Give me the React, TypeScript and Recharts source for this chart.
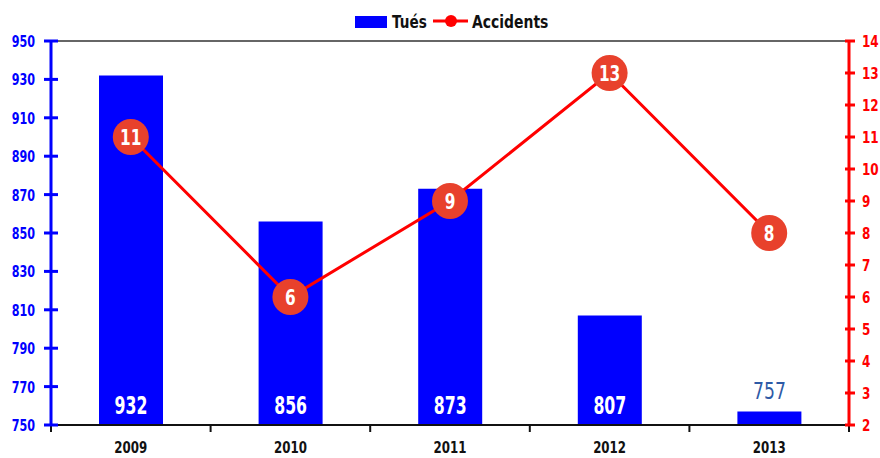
import React from 'react';
import {
  ComposedChart, Bar, Line, XAxis, YAxis, CartesianGrid, LabelList,
} from 'recharts';

const YEARS = ['2009', '2010', '2011', '2012', '2013'];
const TUES = [932, 856, 873, 807, 757];
const ACCIDENTS = [11, 6, 9, 13, 8];
const LEFT_TICKS = [750, 770, 790, 810, 830, 850, 870, 890, 910, 930, 950];
const RIGHT_TICKS = [2, 3, 4, 5, 6, 7, 8, 9, 10, 11, 12, 13, 14];

const data = YEARS.map((year, i) => ({ year, tues: TUES[i], accidents: ACCIDENTS[i] }));

const FONT = "'DejaVu Sans', sans-serif";
const BLUE = '#0000ff';
const RED = '#ff0000';
const DOT = '#e8412c';

const W = 880;
const H = 458;
const BAND = (849 - 51) / YEARS.length;

// text squeezed horizontally to get a condensed face
function CondText({ x, y, sx, size, fill, anchor = 'middle', bold = true, children }: any) {
  return (
    <g transform={`translate(${x},${y}) scale(${sx},1)`}>
      <text x={0} y={0} textAnchor={anchor} fill={fill} fontSize={size}
        fontWeight={bold ? 'bold' : 'normal'} fontFamily={FONT}>
        {children}
      </text>
    </g>
  );
}

function LeftTick({ x, y, payload }: any) {
  return (
    <g>
      <line x1={x + 1} x2={x + 15} y1={y} y2={y} stroke={BLUE} strokeWidth={3} />
      <CondText x={x - 8} y={y + 6} sx={0.7} size={16} fill={BLUE} anchor="end">{payload.value}</CondText>
    </g>
  );
}

function RightTick({ x, y, payload }: any) {
  return (
    <g>
      <line x1={x - 12} x2={x - 2} y1={y} y2={y} stroke={RED} strokeWidth={3} />
      <CondText x={x + 5} y={y + 6} sx={0.75} size={16} fill={RED} anchor="start">{payload.value}</CondText>
    </g>
  );
}

function YearTick({ x, y, payload, index }: any) {
  const left = x - BAND / 2;
  return (
    <g>
      <line x1={left} x2={left} y1={y - 9} y2={y - 1} stroke="#111" strokeWidth={2} />
      {index === YEARS.length - 1 && (
        <line x1={x + BAND / 2} x2={x + BAND / 2} y1={y - 9} y2={y - 1} stroke="#111" strokeWidth={2} />
      )}
      <CondText x={x} y={y + 20} sx={0.79} size={15} fill="#111">{payload.value}</CondText>
    </g>
  );
}

// value inside the bar near its base, or above it when the bar is too short
function BarValue({ x, y, width, height, value }: any) {
  const cx = x + width / 2;
  if (height < 30) {
    return (
      <g>
        <rect x={cx - 22} y={y - 26} width={44} height={22} fill="#fff" />
        <CondText x={cx} y={y - 13} sx={0.75} size={23} fill="#2e5aa6" bold={false}>{value}</CondText>
      </g>
    );
  }
  return (
    <CondText x={cx} y={y + height - 11} sx={0.63} size={25} fill="#fff">{value}</CondText>
  );
}

function AccidentDot({ cx, cy, value }: any) {
  return (
    <g>
      <circle cx={cx} cy={cy} r={18} fill={DOT} />
      <CondText x={cx} y={cy + 8} sx={0.7} size={22} fill="#fff">{value}</CondText>
    </g>
  );
}

function LegendBox() {
  return (
    <svg width={W} height={36} style={{ position: 'absolute', left: 0, top: 0 }}>
      <rect x={355} y={16} width={32} height={12} fill={BLUE} />
      <CondText x={392} y={28} sx={0.8} size={17} fill="#111" anchor="start">Tués</CondText>
      <line x1={433} x2={468} y1={21} y2={21} stroke={RED} strokeWidth={3} />
      <circle cx={451} cy={21} r={6} fill={RED} />
      <CondText x={472} y={28} sx={0.82} size={17} fill="#111" anchor="start">Accidents</CondText>
    </svg>
  );
}

export default function App() {
  return (
    <div style={{ position: 'absolute', left: 0, top: 0, width: W, height: H, background: '#fff' }}>
      <LegendBox />
      <ComposedChart width={W} height={H} data={data} margin={{ top: 41, right: 0, bottom: 0, left: 6 }}>
        <CartesianGrid vertical={false} stroke="#333" strokeWidth={1.5} />
        <XAxis
          dataKey="year"
          height={33}
          axisLine={{ stroke: '#111', strokeWidth: 2 }}
          tickLine={false}
          tick={<YearTick />}
          interval={0}
        />
        <YAxis
          yAxisId="left"
          width={45}
          domain={[750, 950]}
          ticks={LEFT_TICKS}
          allowDataOverflow
          axisLine={{ stroke: BLUE, strokeWidth: 3 }}
          tickLine={false}
          tick={<LeftTick />}
        />
        <YAxis
          yAxisId="right"
          orientation="right"
          width={31}
          domain={[2, 14]}
          ticks={RIGHT_TICKS}
          axisLine={{ stroke: RED, strokeWidth: 3 }}
          tickLine={false}
          tick={<RightTick />}
        />
        <Bar yAxisId="left" dataKey="tues" name="Tués" fill={BLUE} barSize={64} isAnimationActive={false}>
          <LabelList dataKey="tues" content={<BarValue />} />
        </Bar>
        <Line
          yAxisId="right"
          dataKey="accidents"
          name="Accidents"
          type="linear"
          stroke={RED}
          strokeWidth={3}
          dot={<AccidentDot />}
          activeDot={false}
          isAnimationActive={false}
        />
      </ComposedChart>
    </div>
  );
}
